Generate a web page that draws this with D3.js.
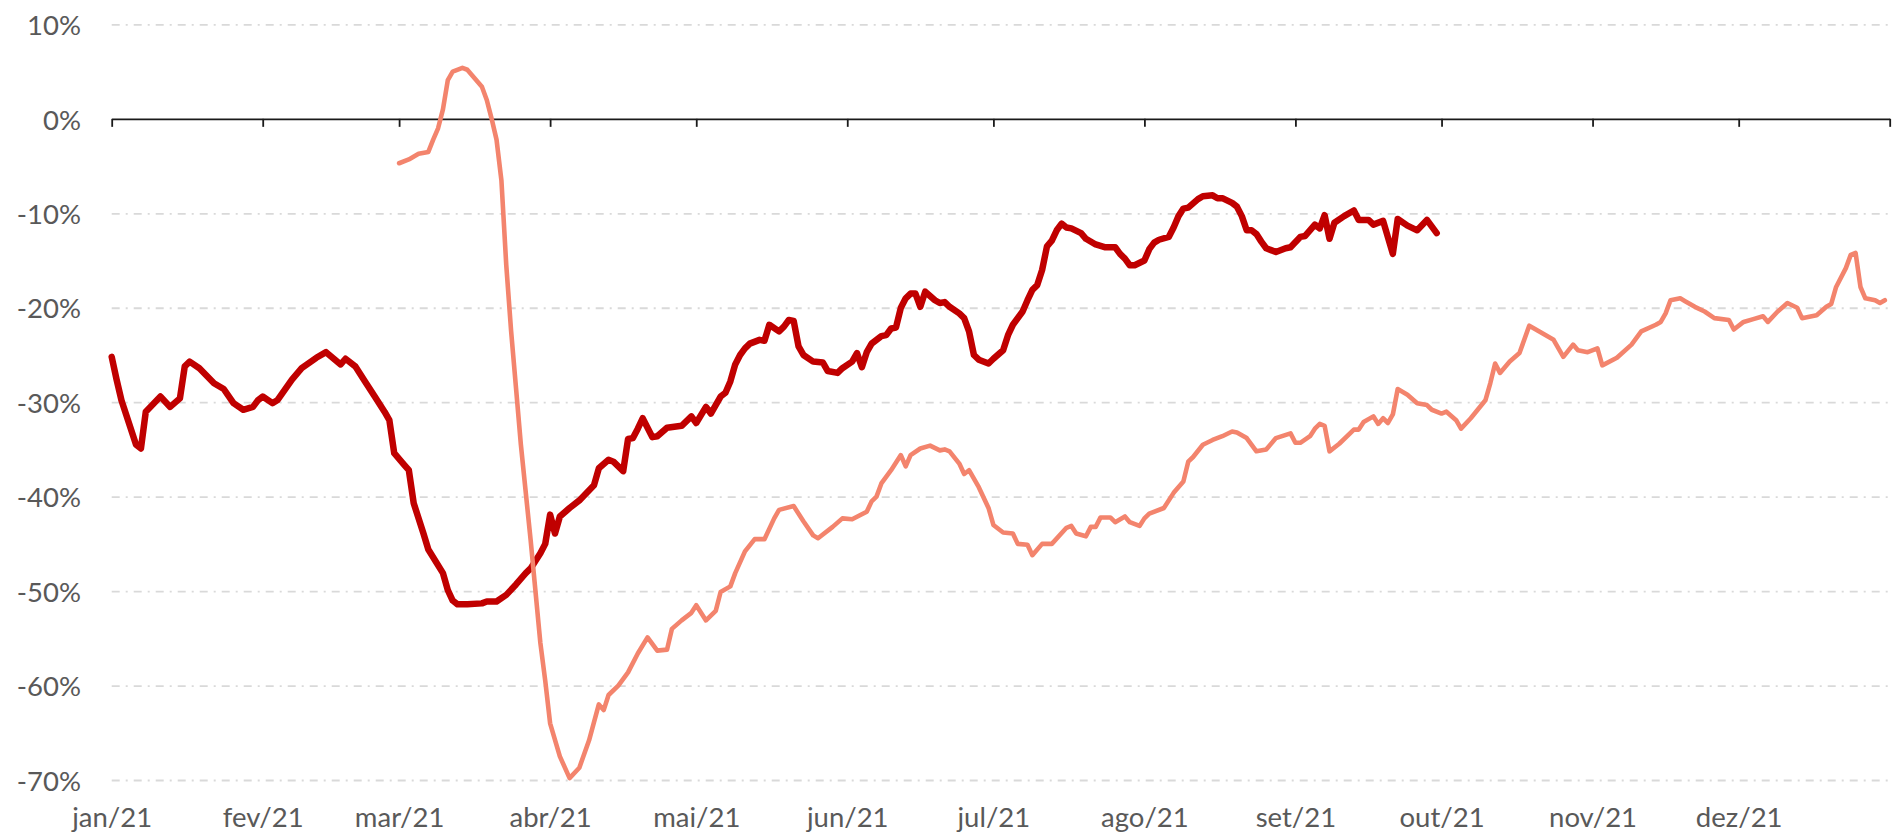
<!DOCTYPE html>
<html>
<head>
<meta charset="utf-8">
<script src="https://cdn.jsdelivr.net/npm/d3@7"></script>
<style>
  body { margin: 0; background: #ffffff; }
  text { font-family: Lato, "Open Sans", sans-serif; fill: #595959; }
</style>
</head>
<body>
<div id="chart"></div>
<script>
// Data (% change)
var darkDates = ["2021-01-01","2021-01-02","2021-01-03","2021-01-06","2021-01-07","2021-01-08","2021-01-11","2021-01-13","2021-01-15","2021-01-16",
  "2021-01-17","2021-01-19","2021-01-22","2021-01-24","2021-01-26","2021-01-28","2021-01-30","2021-01-31","2021-02-01","2021-02-03",
  "2021-02-04","2021-02-07","2021-02-09","2021-02-12","2021-02-14","2021-02-17","2021-02-18","2021-02-20","2021-02-22","2021-02-24",
  "2021-02-26","2021-02-27","2021-02-28","2021-03-02","2021-03-03","2021-03-04","2021-03-06","2021-03-07","2021-03-10","2021-03-11",
  "2021-03-12","2021-03-13","2021-03-15","2021-03-18","2021-03-19","2021-03-21","2021-03-23","2021-03-25","2021-03-27","2021-03-28",
  "2021-03-30","2021-03-31","2021-04-01","2021-04-02","2021-04-03","2021-04-05","2021-04-07","2021-04-10","2021-04-11","2021-04-13",
  "2021-04-14","2021-04-15","2021-04-16","2021-04-17","2021-04-18","2021-04-19","2021-04-20","2021-04-22","2021-04-23","2021-04-25",
  "2021-04-28","2021-04-30","2021-05-01","2021-05-03","2021-05-04","2021-05-06","2021-05-07","2021-05-08","2021-05-09","2021-05-10",
  "2021-05-11","2021-05-12","2021-05-14","2021-05-15","2021-05-16","2021-05-18","2021-05-19","2021-05-20","2021-05-21","2021-05-22",
  "2021-05-23","2021-05-25","2021-05-27","2021-05-28","2021-05-30","2021-05-31","2021-06-02","2021-06-03","2021-06-04","2021-06-05",
  "2021-06-06","2021-06-08","2021-06-09","2021-06-10","2021-06-11","2021-06-12","2021-06-13","2021-06-14","2021-06-15","2021-06-16",
  "2021-06-17","2021-06-19","2021-06-20","2021-06-21","2021-06-22","2021-06-24","2021-06-25","2021-06-26","2021-06-27","2021-06-28",
  "2021-06-30","2021-07-01","2021-07-03","2021-07-04","2021-07-05","2021-07-07","2021-07-08","2021-07-09","2021-07-10","2021-07-11",
  "2021-07-12","2021-07-13","2021-07-14","2021-07-15","2021-07-16","2021-07-17","2021-07-19","2021-07-20","2021-07-22","2021-07-24",
  "2021-07-26","2021-07-27","2021-07-28","2021-07-29","2021-07-30","2021-08-01","2021-08-02","2021-08-03","2021-08-04","2021-08-06",
  "2021-08-07","2021-08-08","2021-08-09","2021-08-10","2021-08-12","2021-08-13","2021-08-15","2021-08-16","2021-08-17","2021-08-19",
  "2021-08-20","2021-08-21","2021-08-22","2021-08-23","2021-08-24","2021-08-25","2021-08-26","2021-08-27","2021-08-28","2021-08-30",
  "2021-08-31","2021-09-02","2021-09-03","2021-09-05","2021-09-06","2021-09-07","2021-09-08","2021-09-09","2021-09-11","2021-09-13",
  "2021-09-14","2021-09-16","2021-09-17","2021-09-19","2021-09-21","2021-09-22","2021-09-24","2021-09-26","2021-09-28","2021-09-30"];
var darkValues = [-25.2,-27.6,-29.8,-34.5,-34.9,-31.0,-29.4,-30.5,-29.6,-26.2,
  -25.7,-26.4,-28.0,-28.6,-30.1,-30.8,-30.5,-29.8,-29.4,-30.1,
  -29.8,-27.6,-26.4,-25.3,-24.7,-26.0,-25.4,-26.2,-27.8,-29.4,
  -31.0,-31.9,-35.4,-36.6,-37.2,-40.7,-43.9,-45.6,-48.1,-49.9,
  -51.0,-51.4,-51.4,-51.3,-51.1,-51.1,-50.4,-49.3,-48.1,-47.6,
  -46.0,-45.0,-41.9,-43.9,-42.1,-41.2,-40.4,-38.8,-37.0,-36.1,
  -36.3,-36.8,-37.3,-33.9,-33.8,-32.8,-31.7,-33.7,-33.6,-32.7,
  -32.5,-31.5,-32.2,-30.5,-31.2,-29.4,-29.0,-27.8,-26.0,-25.0,
  -24.3,-23.8,-23.4,-23.5,-21.8,-22.5,-22.0,-21.3,-21.4,-24.1,
  -25.0,-25.7,-25.8,-26.7,-26.9,-26.4,-25.7,-24.8,-26.3,-24.7,
  -23.8,-23.0,-22.9,-22.2,-22.1,-20.0,-19.0,-18.5,-18.5,-19.9,
  -18.3,-19.2,-19.5,-19.4,-19.9,-20.6,-21.1,-22.5,-25.0,-25.5,
  -25.9,-25.4,-24.5,-22.9,-21.8,-20.4,-19.2,-18.1,-17.6,-16.0,
  -13.5,-12.9,-11.8,-11.1,-11.5,-11.6,-12.1,-12.7,-13.3,-13.6,
  -13.6,-14.3,-14.8,-15.5,-15.5,-15.0,-13.8,-13.1,-12.8,-12.5,
  -11.5,-10.3,-9.5,-9.4,-8.5,-8.2,-8.1,-8.4,-8.4,-8.9,
  -9.3,-10.3,-11.8,-11.8,-12.2,-13.0,-13.7,-13.9,-14.1,-13.7,
  -13.6,-12.5,-12.4,-11.2,-11.6,-10.2,-12.7,-11.0,-10.3,-9.7,
  -10.7,-10.7,-11.2,-10.8,-14.3,-10.6,-11.3,-11.8,-10.7,-12.1];

var lightDates = ["2021-03-01","2021-03-03","2021-03-05","2021-03-07","2021-03-08","2021-03-09","2021-03-10","2021-03-11","2021-03-12","2021-03-14",
  "2021-03-15","2021-03-18","2021-03-19","2021-03-20","2021-03-21","2021-03-22","2021-03-23","2021-03-24","2021-03-25","2021-03-26",
  "2021-03-28","2021-03-30","2021-03-31","2021-04-01","2021-04-03","2021-04-05","2021-04-07","2021-04-09","2021-04-11","2021-04-12",
  "2021-04-13","2021-04-15","2021-04-17","2021-04-19","2021-04-21","2021-04-23","2021-04-25","2021-04-26","2021-04-28","2021-04-30",
  "2021-05-01","2021-05-03","2021-05-05","2021-05-06","2021-05-08","2021-05-09","2021-05-11","2021-05-13","2021-05-15","2021-05-17",
  "2021-05-18","2021-05-21","2021-05-23","2021-05-25","2021-05-26","2021-05-29","2021-05-31","2021-06-02","2021-06-05","2021-06-06",
  "2021-06-07","2021-06-08","2021-06-10","2021-06-12","2021-06-13","2021-06-14","2021-06-16","2021-06-18","2021-06-20","2021-06-21",
  "2021-06-22","2021-06-24","2021-06-25","2021-06-26","2021-06-28","2021-06-30","2021-07-01","2021-07-03","2021-07-05","2021-07-06",
  "2021-07-08","2021-07-09","2021-07-11","2021-07-13","2021-07-16","2021-07-17","2021-07-18","2021-07-20","2021-07-21","2021-07-22",
  "2021-07-23","2021-07-25","2021-07-26","2021-07-28","2021-07-29","2021-07-31","2021-08-01","2021-08-02","2021-08-05","2021-08-07",
  "2021-08-09","2021-08-10","2021-08-11","2021-08-13","2021-08-15","2021-08-17","2021-08-19","2021-08-20","2021-08-22","2021-08-24",
  "2021-08-26","2021-08-28","2021-08-31","2021-09-01","2021-09-02","2021-09-04","2021-09-05","2021-09-06","2021-09-07","2021-09-08",
  "2021-09-10","2021-09-13","2021-09-14","2021-09-15","2021-09-17","2021-09-18","2021-09-19","2021-09-20","2021-09-21","2021-09-22",
  "2021-09-24","2021-09-26","2021-09-28","2021-09-29","2021-10-01","2021-10-02","2021-10-04","2021-10-05","2021-10-07","2021-10-10",
  "2021-10-11","2021-10-12","2021-10-13","2021-10-15","2021-10-17","2021-10-19","2021-10-20","2021-10-24","2021-10-26","2021-10-28",
  "2021-10-29","2021-10-31","2021-11-02","2021-11-03","2021-11-06","2021-11-09","2021-11-11","2021-11-14","2021-11-15","2021-11-16",
  "2021-11-17","2021-11-19","2021-11-20","2021-11-22","2021-11-24","2021-11-26","2021-11-29","2021-11-30","2021-12-02","2021-12-04",
  "2021-12-06","2021-12-07","2021-12-09","2021-12-11","2021-12-13","2021-12-14","2021-12-17","2021-12-19","2021-12-20","2021-12-21",
  "2021-12-23","2021-12-24","2021-12-25","2021-12-26","2021-12-27","2021-12-29","2021-12-30","2021-12-31"];
var lightValues = [-4.7,-4.3,-3.7,-3.5,-2.2,-1.0,1.0,4.1,5.0,5.4,
  5.2,3.4,2.0,0.0,-2.2,-6.5,-15.5,-22.5,-28.5,-34.5,
  -44.6,-55.5,-59.5,-64.0,-67.5,-69.8,-68.7,-65.8,-62.0,-62.6,
  -61.0,-60.0,-58.6,-56.6,-54.9,-56.3,-56.2,-54.0,-53.1,-52.3,
  -51.5,-53.1,-52.1,-50.1,-49.5,-48.1,-45.8,-44.5,-44.5,-42.3,
  -41.4,-41.0,-42.6,-44.1,-44.4,-43.2,-42.3,-42.4,-41.6,-40.5,
  -40.0,-38.6,-37.2,-35.6,-36.8,-35.6,-34.9,-34.6,-35.1,-35.0,
  -35.2,-36.5,-37.6,-37.2,-39.0,-41.2,-43.0,-43.8,-43.9,-45.0,
  -45.1,-46.2,-45.0,-45.0,-43.3,-43.1,-43.9,-44.2,-43.2,-43.2,
  -42.2,-42.2,-42.7,-42.1,-42.7,-43.1,-42.3,-41.8,-41.2,-39.6,
  -38.4,-36.3,-35.8,-34.5,-34.0,-33.6,-33.1,-33.2,-33.8,-35.2,
  -35.0,-33.8,-33.3,-34.3,-34.3,-33.6,-32.8,-32.3,-32.5,-35.2,
  -34.4,-32.9,-32.9,-32.1,-31.5,-32.3,-31.7,-32.2,-31.3,-28.6,
  -29.2,-30.1,-30.3,-30.8,-31.2,-31.0,-31.9,-32.8,-31.7,-29.8,
  -28.0,-25.9,-26.9,-25.7,-24.8,-21.9,-22.2,-23.4,-25.2,-23.9,
  -24.5,-24.7,-24.3,-26.1,-25.3,-23.9,-22.5,-21.8,-21.5,-20.6,
  -19.2,-19.0,-19.3,-19.9,-20.4,-21.1,-21.3,-22.3,-21.5,-21.2,
  -20.9,-21.5,-20.4,-19.5,-20.0,-21.1,-20.8,-19.9,-19.6,-17.8,
  -15.8,-14.4,-14.2,-17.8,-19.0,-19.2,-19.5,-19.2];

var yTicks = [10, 0, -10, -20, -30, -40, -50, -60, -70];
var monthLabels = ["jan/21", "fev/21", "mar/21", "abr/21", "mai/21", "jun/21",
  "jul/21", "ago/21", "set/21", "out/21", "nov/21", "dez/21"];

var svgWidth = 1893;
var svgHeight = 832;

var margin = {
  top: 24.4,
  right: 3.3,
  bottom: 52,
  left: 111.7
};

var width = svgWidth - margin.left - margin.right;
var height = svgHeight - margin.top - margin.bottom;

var svg = d3.select("#chart")
  .append("svg")
  .attr("width", svgWidth)
  .attr("height", svgHeight);

var chartGroup = svg.append("g")
  .attr("transform", `translate(${margin.left}, ${margin.top})`);

var parseDate = d3.timeParse("%Y-%m-%d");

var darkData = darkDates.map((d, i) => ({ date: parseDate(d), value: darkValues[i] }));
var lightData = lightDates.map((d, i) => ({ date: parseDate(d), value: lightValues[i] }));

// Scales
var xTimeScale = d3.scaleTime()
  .domain([new Date(2021, 0, 1), new Date(2022, 0, 1)])
  .range([0, width]);

var yLinearScale = d3.scaleLinear()
  .domain([-70, 10])
  .range([height, 0]);

var monthTicks = d3.timeMonth.range(new Date(2021, 0, 1), new Date(2022, 0, 2));

// Gridlines (dash-dot), skipping the zero line
var grid = chartGroup.append("g")
  .attr("class", "grid")
  .call(d3.axisLeft(yLinearScale)
    .tickValues(yTicks.filter(v => v !== 0))
    .tickSize(-width)
    .tickFormat(""));
grid.select(".domain").remove();
grid.selectAll("line")
  .attr("stroke", "#d9d9d9")
  .attr("stroke-width", 1.8)
  .attr("stroke-dasharray", "8,6,2,6");

// Y labels
var yAxis = chartGroup.append("g")
  .call(d3.axisLeft(yLinearScale)
    .tickValues(yTicks)
    .tickSize(0)
    .tickPadding(30.7)
    .tickFormat(d => d + "%"));
yAxis.select(".domain").remove();
yAxis.selectAll("text")
  .attr("dy", "0.37em")
  .style("font-size", "27.5px")
  .style("fill", "#595959");

// Zero axis with month ticks
var zeroAxis = chartGroup.append("g")
  .attr("transform", `translate(0, ${yLinearScale(0)})`)
  .call(d3.axisBottom(xTimeScale)
    .tickValues(monthTicks)
    .tickSize(8)
    .tickSizeOuter(0)
    .tickFormat(""));
zeroAxis.select(".domain").attr("stroke", "#1a1a1a").attr("stroke-width", 1.8);
zeroAxis.selectAll("line").attr("stroke", "#1a1a1a").attr("stroke-width", 1.8);

// Month labels along the bottom
var xAxis = chartGroup.append("g")
  .attr("transform", `translate(0, ${height})`)
  .call(d3.axisBottom(xTimeScale)
    .tickValues(monthTicks.slice(0, 12))
    .tickSize(0)
    .tickFormat((d, i) => monthLabels[i]));
xAxis.select(".domain").remove();
xAxis.selectAll("text")
  .attr("y", 46.5)
  .attr("dy", 0)
  .style("font-size", "27.5px")
  .style("fill", "#595959");

// Lines
var line = d3.line()
  .x(d => xTimeScale(d.date))
  .y(d => yLinearScale(d.value));

chartGroup.append("path")
  .datum(darkData)
  .attr("fill", "none")
  .attr("stroke", "#c00000")
  .attr("stroke-width", 6.5)
  .attr("stroke-linejoin", "round")
  .attr("stroke-linecap", "round")
  .attr("d", line);

chartGroup.append("path")
  .datum(lightData)
  .attr("fill", "none")
  .attr("stroke", "#f3846d")
  .attr("stroke-width", 4.6)
  .attr("stroke-linejoin", "round")
  .attr("stroke-linecap", "round")
  .attr("d", line);
</script>
</body>
</html>
